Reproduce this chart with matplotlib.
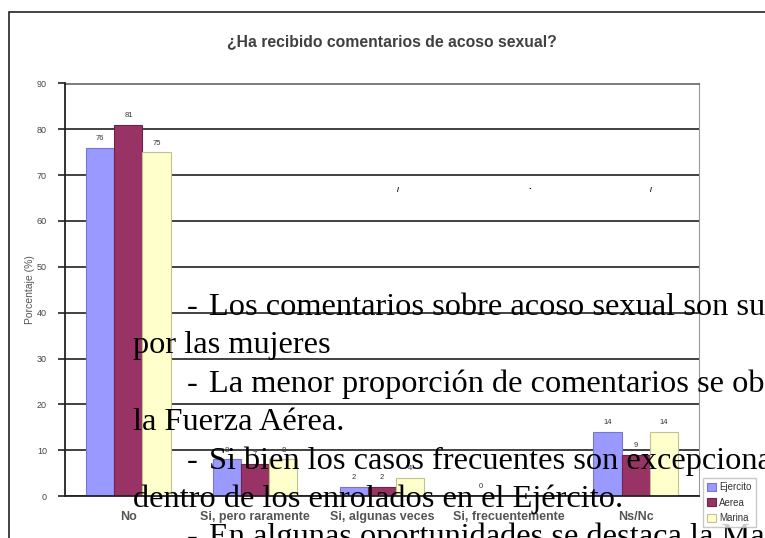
import numpy as np
import matplotlib.pyplot as plt
from matplotlib.patches import Rectangle

categories = ['No', 'Si, pero raramente', 'Si, algunas veces', 'Si, frecuentemente', 'Ns/Nc']
ejercito = [76, 8, 2, 0, 14]
aerea = [81, 7, 2, np.nan, 9]
marina = [75, 8, 4, np.nan, 14]
series_names = ['Ejercito', 'Aerea', 'Marina']
yticks = list(range(0, 100, 10))

title = '¿Ha recibido comentarios de acoso sexual?'
ylabel = 'Porcentaje (%)'

# texto del informe que va encima del grafico
notes = [
    (187, 315, '-'), (209, 315, 'Los comentarios sobre acoso sexual son sufridos'),
    (133, 353, 'por las mujeres'),
    (187, 392, '-'), (209, 392, 'La menor proporción de comentarios se observa en'),
    (133, 430, 'la Fuerza Aérea.'),
    (187, 469, '-'), (209, 469, 'Si bien los casos frecuentes son excepcionales,'),
    (133, 507, 'dentro de los enrolados en el Ejército.'),
    (187, 545, '-'), (209, 545, 'En algunas oportunidades se destaca la Marina'),
]

W, H = 765, 538
plt.rcParams['font.family'] = 'Liberation Sans'

fig = plt.figure(figsize=(W / 100, H / 100), dpi=100)
ax = fig.add_axes([65 / W, 1 - 496 / H, (699 - 65) / W, (496 - 83.5) / H])

colors = ['#9999ff', '#993366', '#ffffcc']
edges = ['#7676d0', '#6e2449', '#c2c28f']
w = 0.222
x = np.arange(len(categories))
for i, (vals, name) in enumerate(zip([ejercito, aerea, marina], series_names)):
    vals = np.array(vals, dtype=float)
    pos = x + (i - 1) * w
    ax.bar(pos, np.nan_to_num(vals), w, color=colors[i], edgecolor=edges[i],
           linewidth=0.8, label=name, zorder=3)
    for p, v in zip(pos, vals):
        if np.isnan(v):
            continue
        ax.text(p, v + 1.2, f'{v:.0f}', ha='center', va='bottom', fontsize=5.5,
                color='#333333', zorder=4)

ax.set_xlim(-0.5, len(categories) - 0.5)
ax.set_ylim(0, 90)
ax.set_yticks(yticks)
ax.set_xticks(x)
ax.set_xticklabels(categories, fontsize=9, fontweight='bold', color='#555555')
ax.tick_params(axis='x', length=0, pad=11)
ax.tick_params(axis='y', length=5, width=1.2, labelsize=6.5, labelcolor='#444444',
               color='#222222', direction='out', pad=8)
ax.yaxis.grid(True, color='#333333', linewidth=1.3, zorder=0)
ax.set_axisbelow(True)
ax.set_ylabel(ylabel, fontsize=7.5, color='#555555', labelpad=1)

for s in ['left', 'bottom']:
    ax.spines[s].set_color('#222222')
    ax.spines[s].set_linewidth(1.3)
    ax.spines[s].set_zorder(5)
ax.spines['right'].set_color('#999999')
ax.spines['top'].set_color('#666666')
ax.spines['top'].set_linewidth(1.2)

fig.text(392 / W, 1 - 42 / H, title, ha='center', va='center', fontsize=11.3,
         fontweight='bold', color='#404040')

leg = fig.legend(loc='upper left', bbox_to_anchor=(703 / W, 1 - 478 / H), fontsize=7,
                 frameon=True, fancybox=False, edgecolor='#bbbbbb', handlelength=0.9,
                 handleheight=0.9, handletextpad=0.3, labelspacing=0.55,
                 borderpad=0.45, borderaxespad=0)
for t in leg.get_texts():
    t.set_color('#333333')

# marco exterior del grafico
fig.patches.append(Rectangle((9 / W, -0.1), 1.2, 1.1 - 12.5 / H, fill=False,
                             edgecolor='#222222', linewidth=1.2,
                             transform=fig.transFigure, figure=fig))

for px in [398, 651]:
    fig.text(px / W, 1 - 191 / H, '/', fontsize=5, fontweight='bold',
             ha='center', va='center')
fig.text(530 / W, 1 - 191 / H, '.', fontsize=7, fontweight='bold',
         ha='center', va='bottom')

for px, py, s in notes:
    fig.text(px / W, 1 - py / H, s, fontsize=23.3, family='Liberation Serif',
             ha='left', va='baseline', color='black')

fig.savefig('out.png', dpi=100)
